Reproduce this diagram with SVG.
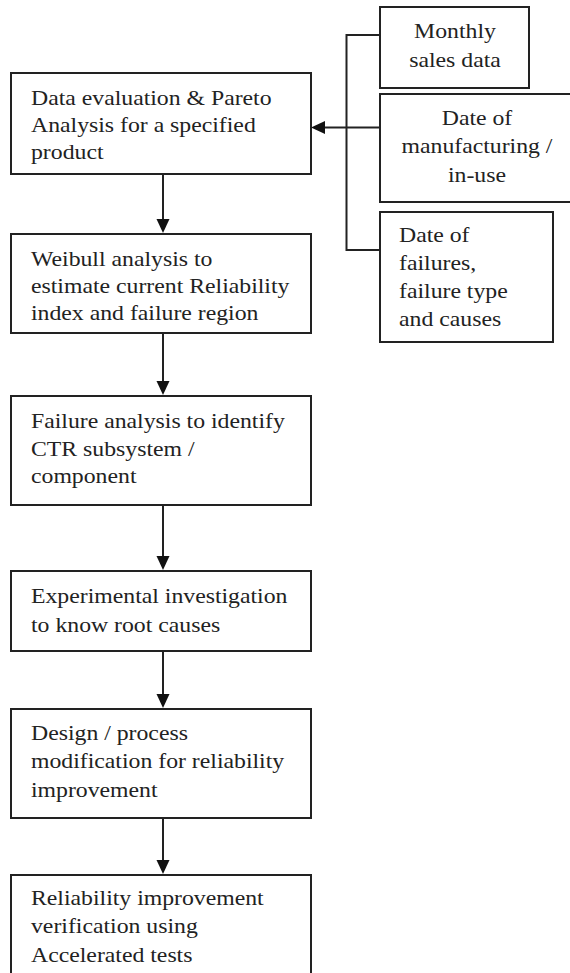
<svg xmlns="http://www.w3.org/2000/svg" width="570" height="973" viewBox="0 0 570 973">
<style>
.box{fill:#fff;stroke:#222;stroke-width:2}
.t{font-family:"Liberation Serif","Times New Roman",serif;font-size:22px;fill:#222}
.c{text-anchor:middle}
.ln{fill:none;stroke:#222;stroke-width:2}
</style>
<defs>
<marker id="ah" markerWidth="14" markerHeight="14" refX="8" refY="7" orient="auto" markerUnits="userSpaceOnUse">
<path d="M0,0.5 L14,7 L0,13.5 Z" fill="#111"/>
</marker>
</defs>
<rect width="570" height="973" fill="#fff"/>
<g id="connectors">
<path class="ln" d="M380,35 H346.5 V250 H380"/>
<line class="ln" x1="380" y1="127.5" x2="317" y2="127.5" marker-end="url(#ah)"/>
<line class="ln" x1="163" y1="174" x2="163" y2="227" marker-end="url(#ah)"/>
<line class="ln" x1="163" y1="333" x2="163" y2="389" marker-end="url(#ah)"/>
<line class="ln" x1="163" y1="505" x2="163" y2="564" marker-end="url(#ah)"/>
<line class="ln" x1="163" y1="651" x2="163" y2="702" marker-end="url(#ah)"/>
<line class="ln" x1="163" y1="818" x2="163" y2="868" marker-end="url(#ah)"/>
</g>
<g id="n1">
<rect class="box" x="11" y="73" width="300" height="101"/>
<text class="t" transform="translate(31,105) scale(1.08,1)">Data evaluation &amp; Pareto</text>
<text class="t" transform="translate(31,132) scale(1.08,1)">Analysis for a specified</text>
<text class="t" transform="translate(31,159) scale(1.08,1)">product</text>
</g>
<g id="n2">
<rect class="box" x="11" y="234" width="300" height="99"/>
<text class="t" transform="translate(31,266) scale(1.08,1)">Weibull analysis to</text>
<text class="t" transform="translate(31,293) scale(1.08,1)">estimate current Reliability</text>
<text class="t" transform="translate(31,320) scale(1.08,1)">index and failure region</text>
</g>
<g id="n3">
<rect class="box" x="11" y="396" width="300" height="109"/>
<text class="t" transform="translate(31,428) scale(1.08,1)">Failure analysis to identify</text>
<text class="t" transform="translate(31,456) scale(1.08,1)">CTR subsystem /</text>
<text class="t" transform="translate(31,483) scale(1.08,1)">component</text>
</g>
<g id="n4">
<rect class="box" x="11" y="571" width="300" height="80"/>
<text class="t" transform="translate(31,603) scale(1.08,1)">Experimental investigation</text>
<text class="t" transform="translate(31,632) scale(1.08,1)">to know root causes</text>
</g>
<g id="n5">
<rect class="box" x="11" y="709" width="300" height="109"/>
<text class="t" transform="translate(31,740) scale(1.08,1)">Design / process</text>
<text class="t" transform="translate(31,768) scale(1.08,1)">modification for reliability</text>
<text class="t" transform="translate(31,797) scale(1.08,1)">improvement</text>
</g>
<g id="n6">
<rect class="box" x="11" y="875" width="300" height="110"/>
<text class="t" transform="translate(31,905) scale(1.08,1)">Reliability improvement</text>
<text class="t" transform="translate(31,933) scale(1.08,1)">verification using</text>
<text class="t" transform="translate(31,962) scale(1.08,1)">Accelerated tests</text>
</g>
<g id="s1">
<rect class="box" x="380" y="7" width="149" height="81"/>
<text class="t c" transform="translate(455,38) scale(1.08,1)">Monthly</text>
<text class="t c" transform="translate(455,67) scale(1.08,1)">sales data</text>
</g>
<g id="s2">
<rect class="box" x="380" y="94" width="196" height="108"/>
<text class="t c" transform="translate(477,125) scale(1.08,1)">Date of</text>
<text class="t c" transform="translate(477,153) scale(1.08,1)">manufacturing /</text>
<text class="t c" transform="translate(477,182) scale(1.08,1)">in-use</text>
</g>
<g id="s3">
<rect class="box" x="380" y="212" width="173" height="130"/>
<text class="t" transform="translate(399,242) scale(1.08,1)">Date of</text>
<text class="t" transform="translate(399,270) scale(1.08,1)">failures,</text>
<text class="t" transform="translate(399,298) scale(1.08,1)">failure type</text>
<text class="t" transform="translate(399,326) scale(1.08,1)">and causes</text>
</g>
</svg>
